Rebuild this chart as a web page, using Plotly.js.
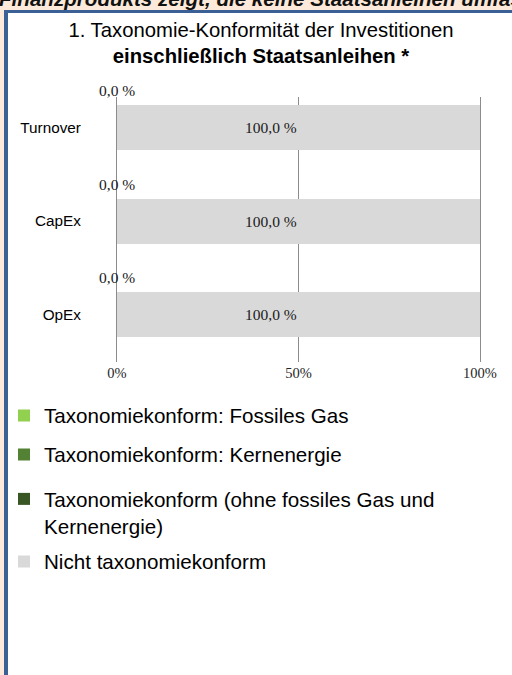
<!DOCTYPE html>
<html><head><meta charset="utf-8">
<script src="https://cdn.plot.ly/plotly-3.0.1.min.js"></script>
<style>
html,body{margin:0;padding:0;background:#fde9d9;width:512px;height:675px;overflow:hidden;}
#frame{position:absolute;left:4px;top:10px;width:508px;height:665px;background:#fff;border-top:3px solid #3b6095;border-left:4px solid #3b6095;box-sizing:border-box;}
#head{position:absolute;left:0;top:0;width:512px;height:10px;overflow:hidden;}
#head span{position:absolute;left:-1px;top:-13.5px;font:bold italic 20.6px "Liberation Sans",Arial,sans-serif;white-space:nowrap;color:#111;}
#chart{position:absolute;left:0;top:0;width:512px;height:675px;}
</style></head>
<body>
<div id="head"><span>Finanzprodukts zeigt, die keine Staatsanleihen umfassen</span></div>
<div id="frame"></div>
<div id="chart"></div>
<script>
const categories = ['Turnover', 'CapEx', 'OpEx'];
const seriesNames = [
  'Taxonomiekonform: Fossiles Gas',
  'Taxonomiekonform: Kernenergie',
  'Taxonomiekonform (ohne fossiles Gas und<br>Kernenergie)',
  'Nicht taxonomiekonform'
];
const fossilGas = [0, 0, 0];
const nuclear = [0, 0, 0];
const alignedOther = [0, 0, 0];
const notAligned = [100, 100, 100];
const xTickVals = [0, 50, 100];
const xTickText = ['0%', '50%', '100%'];
const seriesColors = ['#92d050', '#548235', '#375623', '#d9d9d9'];
const legendTops = [395.5, 434.5, 479, 541.5];

const fmt = v => v.toFixed(1).replace('.', ',') + ' %';
const seriesValues = [fossilGas, nuclear, alignedOther, notAligned];
const legendIds = ['legend', 'legend2', 'legend3', 'legend4'];

const traces = seriesValues.map((vals, i) => ({
  type: 'bar',
  orientation: 'h',
  name: seriesNames[i],
  x: vals,
  y: categories,
  legend: legendIds[i],
  marker: {color: seriesColors[i], line: {width: 0}},
  hoverinfo: 'skip'
}));

const annotations = [];
categories.forEach((c, j) => {
  const alignedSum = fossilGas[j] + nuclear[j] + alignedOther[j];
  annotations.push({
    x: alignedSum, y: c, xref: 'x', yref: 'y', text: fmt(alignedSum),
    showarrow: false, yshift: 37, xanchor: 'center',
    font: {family: 'Liberation Serif, Times New Roman, serif', size: 15.5, color: '#1a1a1a'}
  });
  annotations.push({
    x: alignedSum + notAligned[j] / 2, y: c, xref: 'x', yref: 'y', text: fmt(notAligned[j]),
    showarrow: false, xshift: -28, xanchor: 'center',
    font: {family: 'Liberation Serif, Times New Roman, serif', size: 15.5, color: '#1a1a1a'}
  });
});

const layout = {
  width: 512, height: 675,
  paper_bgcolor: 'rgba(0,0,0,0)', plot_bgcolor: 'rgba(0,0,0,0)',
  margin: {l: 117, r: 32, t: 97, b: 313, pad: 0, autoexpand: false},
  barmode: 'stack', bargap: 0.518,
  showlegend: true,
  title: {
    text: '1. Taxonomie-Konformität der Investitionen<br><b>einschließlich Staatsanleihen *</b>',
    font: {family: 'Liberation Sans, Arial, sans-serif', size: 20.3, color: '#000'},
    xref: 'container', x: 261 / 512, xanchor: 'center',
    yref: 'container', y: 1 - 37 / 675, yanchor: 'top'
  },
  xaxis: {
    range: [0, 100], fixedrange: true,
    tickvals: xTickVals, ticktext: xTickText, tickangle: 0,
    showgrid: true, gridcolor: '#8c8c8c', gridwidth: 1,
    zeroline: false, showline: false, ticks: '',
    tickfont: {family: 'Liberation Serif, Times New Roman, serif', size: 14.5, color: '#262626'}
  },
  yaxis: {
    type: 'category', categoryorder: 'array', categoryarray: categories,
    range: [2.507, -0.327], autorange: false, fixedrange: true,
    showgrid: false, zeroline: false,
    showline: true, mirror: true, linecolor: '#8c8c8c', linewidth: 1,
    ticks: '', ticklabelstandoff: 32,
    tickfont: {family: 'Liberation Sans, Arial, sans-serif', size: 15.3, color: '#000'}
  },
  annotations: annotations
};

legendIds.forEach((id, i) => {
  layout[id] = {
    xref: 'container', x: 4 / 512, xanchor: 'left',
    yref: 'container', y: 1 - legendTops[i] / 675, yanchor: 'top',
    orientation: 'v', valign: 'top',
    bgcolor: 'rgba(0,0,0,0)', borderwidth: 0,
    font: {family: 'Liberation Sans, Arial, sans-serif', size: 20.6, color: '#000'},
    itemclick: false, itemdoubleclick: false
  };
});

Plotly.newPlot('chart', traces, layout, {displayModeBar: false, staticPlot: true});
</script>
</body></html>
